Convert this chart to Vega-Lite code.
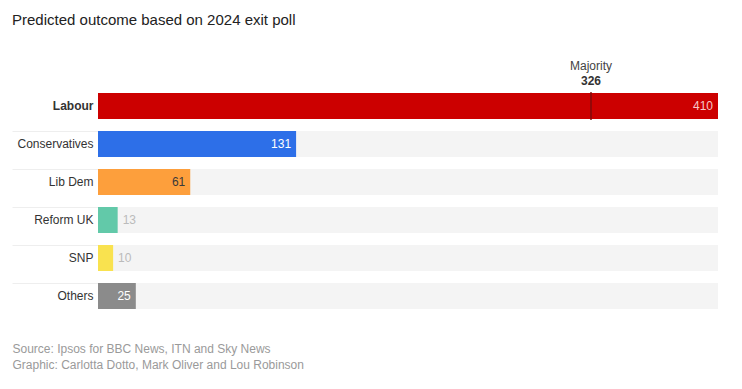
{
  "$schema": "https://vega.github.io/schema/vega-lite/v6.json",
  "autosize": {"type": "none"},
  "width": 620,
  "height": 228,
  "padding": {"left": 98, "top": 87, "right": 24, "bottom": 74},
  "background": "#ffffff",
  "title": {
    "text": "Predicted outcome based on 2024 exit poll",
    "anchor": "start",
    "frame": "group",
    "dx": -86,
    "dy": -28,
    "fontSize": 15,
    "fontWeight": "normal",
    "color": "#222222",
    "font": "Liberation Sans"
  },
  "data": {
    "values": [
      {"party": "Labour", "seats": 410},
      {"party": "Conservatives", "seats": 131},
      {"party": "Lib Dem", "seats": 61},
      {"party": "Reform UK", "seats": 13},
      {"party": "SNP", "seats": 10},
      {"party": "Others", "seats": 25}
    ]
  },
  "encoding": {
    "y": {
      "field": "party",
      "type": "nominal",
      "sort": ["Labour", "Conservatives", "Lib Dem", "Reform UK", "SNP", "Others"],
      "scale": {"paddingInner": 0.316, "paddingOuter": 0.158},
      "axis": {
        "title": null,
        "domain": false,
        "bandPosition": 0,
        "tickSize": 86,
        "tickColor": "#eeeeee",
        "tickWidth": 1,
        "tickOpacity": {"condition": {"test": "datum.value == 'Labour'", "value": 0}, "value": 1},
        "labelPadding": -81,
        "labelFontSize": 12,
        "labelColor": "#333333",
        "labelFont": "Liberation Sans",
        "labelFontWeight": {"condition": {"test": "datum.value == 'Labour'", "value": "bold"}, "value": "normal"}
      }
    }
  },
  "layer": [
    {
      "mark": {"type": "bar", "color": "#f4f4f4"},
      "encoding": {
        "x": {
          "datum": 410,
          "type": "quantitative",
          "scale": {"domain": [0, 410], "nice": false},
          "axis": {
            "title": ["Source: Ipsos for BBC News, ITN and Sky News", "Graphic: Carlotta Dotto, Mark Oliver and Lou Robinson"],
            "labels": false,
            "ticks": false,
            "domain": false,
            "grid": false,
            "titleAnchor": "start",
            "titleAlign": "left",
            "titleBaseline": "top",
            "titleX": -86,
            "titleY": 28,
            "titleFontSize": 12,
            "titleFontWeight": "normal",
            "titleColor": "#9a9a9a",
            "titleFont": "Liberation Sans",
            "titleLineHeight": 16
          }
        }
      }
    },
    {
      "mark": {"type": "bar"},
      "encoding": {
        "x": {"field": "seats", "type": "quantitative"},
        "color": {
          "field": "party",
          "type": "nominal",
          "scale": {
            "domain": ["Labour", "Conservatives", "Lib Dem", "Reform UK", "SNP", "Others"],
            "range": ["#cc0000", "#2d6fe8", "#fd9f3c", "#62c9a9", "#f9e24f", "#8b8b8b"]
          },
          "legend": null
        }
      }
    },
    {
      "transform": [{"filter": "datum.party == 'Labour'"}],
      "mark": {"type": "tick", "color": "#7a0a0a", "thickness": 2, "size": 28, "orient": "vertical"},
      "encoding": {"x": {"datum": 326, "type": "quantitative"}}
    },
    {
      "transform": [{"filter": "datum.party == 'Labour'"}],
      "mark": {"type": "text", "text": "Majority", "dy": -40, "fontSize": 12, "color": "#444444", "font": "Liberation Sans"},
      "encoding": {"x": {"datum": 326, "type": "quantitative"}}
    },
    {
      "transform": [{"filter": "datum.party == 'Labour'"}],
      "mark": {"type": "text", "text": "326", "dy": -25, "fontSize": 12, "fontWeight": "bold", "color": "#333333", "font": "Liberation Sans"},
      "encoding": {"x": {"datum": 326, "type": "quantitative"}}
    },
    {
      "transform": [{"filter": "datum.seats > 20"}],
      "mark": {"type": "text", "align": "right", "dx": -5, "fontSize": 12, "font": "Liberation Sans"},
      "encoding": {
        "x": {"field": "seats", "type": "quantitative"},
        "text": {"field": "seats"},
        "color": {
          "condition": [
            {"test": "datum.party == 'Lib Dem'", "value": "#3a3a3a"},
            {"test": "datum.party == 'Labour'", "value": "#f6c8c8"}
          ],
          "value": "#ffffff"
        }
      }
    },
    {
      "transform": [{"filter": "datum.seats <= 20"}],
      "mark": {"type": "text", "align": "left", "dx": 5, "fontSize": 12, "color": "#bbbbbb", "font": "Liberation Sans"},
      "encoding": {
        "x": {"field": "seats", "type": "quantitative"},
        "text": {"field": "seats"}
      }
    }
  ],
  "config": {
    "view": {"stroke": null},
    "font": "Liberation Sans"
  }
}
